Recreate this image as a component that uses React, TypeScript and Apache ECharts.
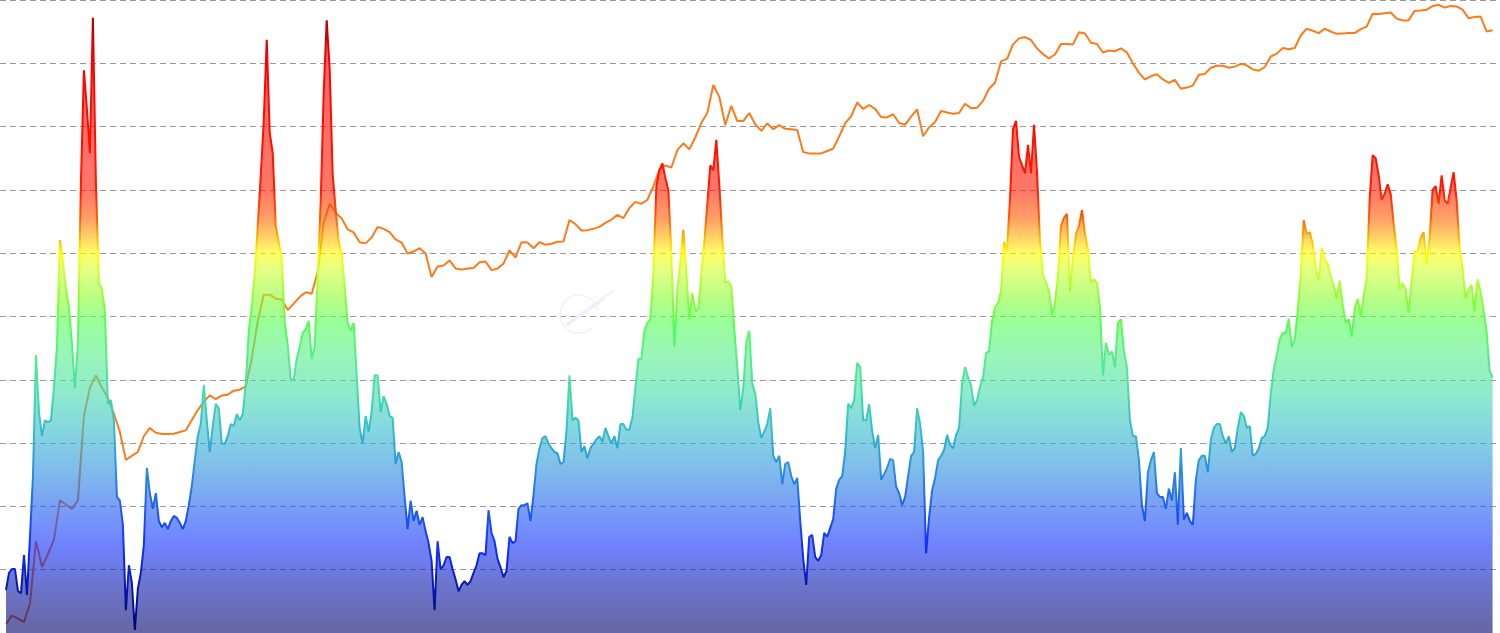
import React, { useEffect, useRef } from 'react';
import * as echarts from 'echarts';

// time frame of the chart
const AXIS_START = Date.UTC(2010, 5, 25);
const AXIS_END = Date.UTC(2026, 2, 28, 12);
const FIRST_DAY = Date.UTC(2010, 6, 18);
const DAY_MS = 86400000;
const INDICATOR_STEP_DAYS = 11.5;
const PRICE_STEP_DAYS = 23;

// indicator values (rainbow area), one every INDICATOR_STEP_DAYS from FIRST_DAY
const indicatorValues: number[] = [
  0.68, 0.95, 1.01, 1.01, 0.66, 0.63, 1.23, 0.60, 1.52, 2.48,
  4.39, 3.49, 3.11, 3.36, 3.33, 3.36, 3.87, 4.52, 6.21, 5.86,
  5.43, 5.15, 4.58, 3.87, 4.58, 7.12, 8.89, 8.28, 7.58, 9.72,
  7.12, 5.53, 5.43, 5.09, 3.62, 3.68, 3.36, 2.15, 2.09, 1.71,
  0.36, 1.07, 0.79, 0.05, 0.70, 0.95, 1.39, 2.61, 2.21, 1.96,
  2.21, 1.77, 1.67, 1.74, 1.64, 1.77, 1.85, 1.82, 1.74, 1.64,
  1.77, 2.02, 2.32, 2.73, 3.11, 3.30, 3.92, 3.36, 2.86, 3.27,
  3.62, 3.55, 2.99, 2.99, 3.11, 3.30, 3.27, 3.46, 3.36, 3.46,
  3.93, 4.77, 5.15, 5.66, 6.43, 7.22, 8.09, 9.37, 7.90, 7.58,
  6.43, 6.18, 5.92, 4.90, 4.55, 4.00, 4.00, 4.33, 4.52, 4.74,
  4.80, 4.93, 4.33, 4.52, 5.66, 6.81, 8.53, 9.68, 8.91, 7.25,
  6.68, 6.18, 5.99, 5.47, 4.90, 4.77, 4.90, 4.07, 3.24, 2.99,
  3.43, 3.18, 3.49, 4.07, 4.07, 3.49, 3.74, 3.62, 3.43, 3.40,
  2.67, 2.86, 2.70, 2.15, 1.64, 2.09, 1.77, 1.93, 1.71, 1.83,
  1.61, 1.42, 1.14, 0.36, 1.45, 1.01, 1.07, 1.20, 1.20, 1.01,
  0.85, 0.66, 0.76, 0.82, 0.76, 0.82, 0.95, 1.07, 1.26, 1.26,
  1.23, 1.94, 1.58, 1.45, 1.17, 1.04, 0.88, 0.98, 1.52, 1.42,
  1.45, 1.96, 2.02, 2.02, 2.05, 1.77, 2.18, 2.67, 2.92, 3.08,
  3.11, 2.99, 2.92, 2.86, 2.84, 2.67, 2.70, 3.18, 4.07, 3.36,
  3.40, 3.36, 2.86, 2.95, 2.76, 2.92, 2.99, 3.06, 3.11, 3.02,
  3.24, 3.11, 2.99, 3.11, 2.92, 3.30, 3.30, 3.21, 3.21, 3.40,
  3.87, 4.33, 4.33, 4.77, 4.90, 4.96, 5.66, 7.06, 7.31, 7.42,
  7.19, 7.00, 5.99, 4.52, 5.43, 5.86, 6.37, 5.70, 4.96, 5.37,
  5.09, 5.12, 5.66, 6.18, 6.78, 7.39, 7.31, 7.79, 7.08, 6.24,
  5.53, 5.56, 5.47, 4.80, 4.20, 3.52, 3.87, 4.58, 4.77, 3.94,
  3.78, 3.33, 3.08, 3.18, 3.30, 3.55, 2.80, 2.70, 2.80, 2.35,
  2.67, 2.70, 2.48, 2.35, 2.45, 1.77, 1.17, 0.76, 1.52, 1.55,
  1.20, 1.14, 1.23, 1.58, 1.52, 1.66, 1.80, 2.28, 2.42, 2.48,
  2.86, 3.62, 3.55, 3.68, 4.27, 4.20, 3.36, 3.36, 3.62, 3.19,
  2.92, 3.13, 2.42, 2.51, 2.61, 2.75, 2.73, 2.31, 2.21, 2.02,
  2.15, 2.48, 2.80, 2.86, 3.55, 3.30, 2.86, 1.26, 1.83, 2.25,
  2.45, 2.73, 2.80, 2.89, 3.13, 2.97, 2.92, 3.13, 3.24, 3.94,
  4.20, 4.04, 3.91, 3.59, 3.68, 3.89, 4.04, 4.42, 4.45, 4.93,
  5.15, 5.21, 5.40, 6.18, 6.05, 6.87, 7.96, 8.09, 7.52, 7.39,
  7.26, 7.71, 7.26, 8.03, 7.29, 6.18, 5.66, 5.53, 5.40, 5.02,
  5.21, 5.66, 6.43, 6.56, 6.62, 5.40, 5.92, 6.30, 6.43, 6.68,
  6.30, 6.05, 5.53, 5.59, 5.53, 5.15, 4.07, 4.58, 4.39, 4.45,
  4.20, 4.90, 4.96, 4.45, 4.20, 3.36, 3.11, 3.11, 2.73, 2.02,
  1.77, 2.54, 2.73, 2.86, 2.21, 2.15, 2.15, 1.96, 2.28, 2.09,
  2.54, 1.71, 2.92, 1.79, 1.90, 1.77, 1.71, 2.42, 2.73, 2.80,
  2.80, 2.54, 3.05, 3.24, 3.30, 3.30, 3.11, 2.99, 3.11, 2.86,
  2.92, 3.24, 3.49, 3.43, 3.24, 3.27, 2.80, 2.83, 2.92, 3.08,
  3.11, 3.24, 3.78, 4.17, 4.39, 4.64, 4.74, 4.74, 4.96, 4.52,
  4.64, 5.09, 5.66, 6.52, 6.30, 6.33, 6.15, 5.76, 5.57, 6.08,
  5.89, 5.83, 5.63, 5.50, 5.28, 5.57, 5.18, 4.90, 4.96, 4.68,
  5.12, 5.28, 5.02, 5.31, 5.60, 6.87, 7.55, 7.50, 7.23, 6.84,
  6.94, 7.09, 6.94, 6.46, 6.05, 5.43, 5.53, 5.43, 5.06, 5.56,
  6.02, 6.02, 6.24, 6.33, 5.83, 6.24, 7.00, 7.06, 6.78, 7.23,
  6.84, 6.78, 7.03, 7.28, 6.84, 6.07, 5.76, 5.28, 5.43, 5.50,
  5.09, 5.59, 5.40, 5.09, 4.77, 4.14, 4.04,
];

// price (USD, log axis), one every PRICE_STEP_DAYS from FIRST_DAY
const priceValues: number[] = [
  0.045, 0.055, 0.051, 0.047, 0.073, 0.33, 0.176, 0.24, 0.34, 0.87,
  0.79, 0.71, 0.87, 6.6, 13.0, 17.4, 13.0, 10.2, 6.95, 4.5,
  2.3, 2.53, 2.78, 4.08, 4.95, 4.41, 4.28, 4.29, 4.3, 4.5,
  4.67, 6.0, 7.6, 9.3, 10.8, 9.9, 10.8, 11.0, 12.1, 12.4,
  13.4, 26.2, 64.4, 121, 121, 110, 108, 83.8, 97.7, 115,
  128, 124, 208, 677, 1068, 863, 754, 580, 538, 426,
  414, 478, 615, 587, 543, 455, 422, 325, 341, 369,
  325, 185, 238, 243, 275, 227, 221, 227, 229, 263,
  268, 218, 227, 255, 351, 295, 426, 422, 369, 426,
  401, 410, 430, 434, 726, 658, 564, 569, 587, 615,
  677, 733, 822, 761, 969, 1120, 1068, 1179, 1620, 2430,
  2683, 2556, 3870, 4565, 3950, 5280, 7423, 9450, 18500, 13920,
  7087, 11230, 7780, 7780, 9450, 7202, 6166, 7345, 6407, 7056,
  6465, 6407, 6288, 3694, 3585, 3585, 3585, 3797, 4022, 5377,
  7423, 8738, 12150, 10410, 11440, 10410, 8560, 8483, 9175, 7423,
  7136, 8640, 10290, 5400, 6722, 7630, 9920, 9540, 9260, 9450,
  11790, 10600, 10700, 12640, 16880, 19500, 32580, 34550, 48980, 56560,
  58340, 54420, 44490, 38820, 34930, 38450, 49450, 49450, 48980, 65460,
  63600, 50890, 49450, 40320, 42320, 41550, 44490, 40320, 31080, 24860,
  21110, 22780, 23900, 21110, 19500, 20920, 16880, 17380, 18230, 23690,
  24130, 27960, 29320, 29320, 27960, 28730, 30740, 29610, 26880, 26060,
  28480, 36640, 39230, 44930, 43550, 44930, 60600, 71380, 68000, 64190,
  71380, 66750, 63020, 63600, 64190, 64190, 70720, 75100, 102300, 101300,
  103300, 105300, 90900, 86700, 87600, 109400, 110500, 112600, 122700, 126600,
  118200, 122700, 121600, 112600, 91730, 94520, 95400, 66750, 68700,
];

const INDICATOR_MIN = 0;
const INDICATOR_MAX = 10;
const INDICATOR_INTERVAL = 1;
const PRICE_MIN = 0.0362;
const PRICE_MAX = 142000;

const rainbowStops = [
  { offset: 0.0, color: '#8b0000' },
  { offset: 0.05, color: '#c40000' },
  { offset: 0.1, color: '#ff0000' },
  { offset: 0.3, color: '#ff1a00' },
  { offset: 0.345, color: '#ff6000' },
  { offset: 0.375, color: '#ffb400' },
  { offset: 0.4, color: '#ffff00' },
  { offset: 0.43, color: '#ccff33' },
  { offset: 0.47, color: '#8cff33' },
  { offset: 0.51, color: '#55ff55' },
  { offset: 0.56, color: '#55ee88' },
  { offset: 0.62, color: '#44ddaa' },
  { offset: 0.68, color: '#33bbcc' },
  { offset: 0.74, color: '#2a90dd' },
  { offset: 0.8, color: '#1f60ee' },
  { offset: 0.86, color: '#1030ff' },
  { offset: 0.92, color: '#0a1ab0' },
  { offset: 1.0, color: '#000066' },
];

export default function App() {
  const ref = useRef<HTMLDivElement>(null);

  useEffect(() => {
    if (!ref.current) return;
    const chart = echarts.init(ref.current, undefined, { renderer: 'svg' });
    const h = 633;
    const grad = () => new echarts.graphic.LinearGradient(0, 0, 0, h, rainbowStops, true);

    const indicatorData = indicatorValues.map((v, i) => [FIRST_DAY + i * INDICATOR_STEP_DAYS * DAY_MS, v]);
    const priceData = priceValues.map((v, i) => [FIRST_DAY + i * PRICE_STEP_DAYS * DAY_MS, v]);

    chart.setOption({
      animation: false,
      backgroundColor: '#ffffff',
      grid: { left: 0, right: 0, top: 0, bottom: 0, containLabel: false },
      xAxis: {
        type: 'time',
        min: AXIS_START,
        max: AXIS_END,
        axisLine: { show: false },
        axisTick: { show: false },
        axisLabel: { show: false },
        splitLine: { show: false },
      },
      yAxis: [
        {
          type: 'value',
          min: INDICATOR_MIN,
          max: INDICATOR_MAX,
          interval: INDICATOR_INTERVAL,
          axisLine: { show: false },
          axisTick: { show: false },
          axisLabel: { show: false },
          splitLine: { show: true, lineStyle: { color: '#999999', type: [6, 4], width: 1 } },
        },
        {
          type: 'log',
          min: PRICE_MIN,
          max: PRICE_MAX,
          show: false,
          splitLine: { show: false },
        },
      ],
      graphic: [
        {
          type: 'arc',
          silent: true,
          shape: { cx: 579, cy: 314, r: 19, startAngle: Math.PI * 0.25, endAngle: Math.PI * 1.95 },
          style: { stroke: '#f3f3f3', lineWidth: 1.5, fill: 'none' },
          z: 1,
        },
        {
          type: 'line',
          silent: true,
          shape: { x1: 568, y1: 324, x2: 604, y2: 298 },
          style: { stroke: '#f1effc', lineWidth: 4, lineCap: 'round' },
          z: 1,
        },
        {
          type: 'line',
          silent: true,
          shape: { x1: 606, y1: 296, x2: 613, y2: 291 },
          style: { stroke: '#f1f1f6', lineWidth: 2, lineCap: 'round' },
          z: 1,
        },
      ],
      series: [
        {
          name: 'Price',
          type: 'line',
          yAxisIndex: 1,
          data: priceData,
          symbol: 'none',
          showSymbol: false,
          lineStyle: { width: 2, color: '#fb7c1c' },
          z: 2,
          silent: true,
        },
        {
          name: 'Indicator',
          type: 'line',
          yAxisIndex: 0,
          data: indicatorData,
          symbol: 'none',
          showSymbol: false,
          lineStyle: { width: 2, color: grad() },
          areaStyle: { color: grad(), opacity: 0.6 },
          z: 3,
          silent: true,
        },
      ],
    });

    return () => chart.dispose();
  }, []);

  return (
    <div
      ref={ref}
      style={{ position: 'absolute', left: 0, top: 0, width: 1500, height: 633 }}
    />
  );
}
